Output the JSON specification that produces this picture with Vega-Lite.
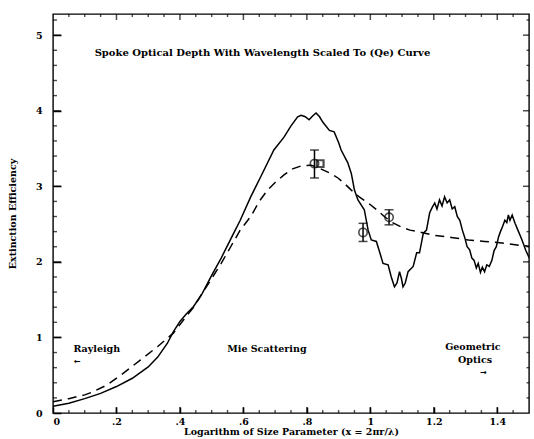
{
  "$schema": "https://vega.github.io/schema/vega-lite/v6.json",
  "width": 476,
  "height": 399,
  "autosize": {"type": "none"},
  "padding": {"left": 53, "top": 14, "right": 5, "bottom": 26},
  "background": "white",
  "config": {
    "view": {"stroke": "black", "strokeWidth": 1.4},
    "font": "DejaVu Serif",
    "axis": {
      "grid": false,
      "domain": false,
      "ticks": true,
      "zindex": 2,
      "tickColor": "#000000",
      "tickWidth": 1.5,
      "labelFont": "DejaVu Serif",
      "labelFontWeight": "bold",
      "labelFontSize": 9.5,
      "labelColor": "black",
      "titleFont": "DejaVu Serif",
      "titleFontWeight": "bold",
      "titleFontSize": 9.5,
      "titleColor": "black"
    }
  },
  "datasets": {
    "solid": [
      {"x": 0.0, "y": 0.09}, {"x": 0.05, "y": 0.13}, {"x": 0.1, "y": 0.19}, {"x": 0.15, "y": 0.26},
      {"x": 0.2, "y": 0.35}, {"x": 0.25, "y": 0.46}, {"x": 0.3, "y": 0.61}, {"x": 0.33, "y": 0.74},
      {"x": 0.36, "y": 0.92}, {"x": 0.38, "y": 1.08}, {"x": 0.4, "y": 1.21}, {"x": 0.42, "y": 1.31},
      {"x": 0.443, "y": 1.41}, {"x": 0.47, "y": 1.58}, {"x": 0.5, "y": 1.82}, {"x": 0.53, "y": 2.05},
      {"x": 0.56, "y": 2.3}, {"x": 0.59, "y": 2.55}, {"x": 0.623, "y": 2.86}, {"x": 0.655, "y": 3.13},
      {"x": 0.696, "y": 3.48}, {"x": 0.728, "y": 3.65}, {"x": 0.75, "y": 3.8}, {"x": 0.771, "y": 3.92},
      {"x": 0.782, "y": 3.94}, {"x": 0.795, "y": 3.92}, {"x": 0.807, "y": 3.88}, {"x": 0.818, "y": 3.93},
      {"x": 0.829, "y": 3.97}, {"x": 0.84, "y": 3.92}, {"x": 0.85, "y": 3.85}, {"x": 0.871, "y": 3.74},
      {"x": 0.886, "y": 3.72}, {"x": 0.9, "y": 3.58}, {"x": 0.908, "y": 3.48}, {"x": 0.929, "y": 3.31},
      {"x": 0.94, "y": 3.17}, {"x": 0.95, "y": 2.95}, {"x": 0.961, "y": 2.82}, {"x": 0.981, "y": 2.69},
      {"x": 0.993, "y": 2.42}, {"x": 1.003, "y": 2.29}, {"x": 1.019, "y": 2.27}, {"x": 1.03, "y": 2.12},
      {"x": 1.04, "y": 1.98}, {"x": 1.056, "y": 1.96}, {"x": 1.066, "y": 1.8}, {"x": 1.076, "y": 1.67},
      {"x": 1.084, "y": 1.72}, {"x": 1.092, "y": 1.87}, {"x": 1.098, "y": 1.78}, {"x": 1.103, "y": 1.67},
      {"x": 1.11, "y": 1.72}, {"x": 1.119, "y": 1.87}, {"x": 1.135, "y": 1.94}, {"x": 1.146, "y": 2.12},
      {"x": 1.155, "y": 2.12}, {"x": 1.167, "y": 2.38}, {"x": 1.177, "y": 2.42}, {"x": 1.187, "y": 2.65},
      {"x": 1.195, "y": 2.72}, {"x": 1.203, "y": 2.78}, {"x": 1.21, "y": 2.7}, {"x": 1.218, "y": 2.82},
      {"x": 1.226, "y": 2.74}, {"x": 1.234, "y": 2.86}, {"x": 1.242, "y": 2.78}, {"x": 1.25, "y": 2.82},
      {"x": 1.258, "y": 2.7}, {"x": 1.266, "y": 2.73}, {"x": 1.274, "y": 2.6}, {"x": 1.282, "y": 2.55},
      {"x": 1.29, "y": 2.42}, {"x": 1.297, "y": 2.33}, {"x": 1.305, "y": 2.2}, {"x": 1.313, "y": 2.16},
      {"x": 1.32, "y": 2.05}, {"x": 1.327, "y": 2.02}, {"x": 1.334, "y": 1.92}, {"x": 1.34, "y": 1.98},
      {"x": 1.347, "y": 1.86}, {"x": 1.353, "y": 1.93}, {"x": 1.36, "y": 1.87}, {"x": 1.367, "y": 1.96},
      {"x": 1.375, "y": 1.94}, {"x": 1.383, "y": 2.02}, {"x": 1.39, "y": 2.15}, {"x": 1.397, "y": 2.2},
      {"x": 1.404, "y": 2.33}, {"x": 1.41, "y": 2.4}, {"x": 1.417, "y": 2.47}, {"x": 1.424, "y": 2.55},
      {"x": 1.43, "y": 2.52}, {"x": 1.435, "y": 2.62}, {"x": 1.44, "y": 2.55}, {"x": 1.447, "y": 2.62},
      {"x": 1.456, "y": 2.51}, {"x": 1.465, "y": 2.42}, {"x": 1.478, "y": 2.29}, {"x": 1.49, "y": 2.15},
      {"x": 1.499, "y": 2.07}, {"x": 1.51, "y": 1.98}
    ],
    "dashed": [
      {"x": 0.0, "y": 0.15}, {"x": 0.05, "y": 0.19}, {"x": 0.1, "y": 0.24}, {"x": 0.12, "y": 0.27},
      {"x": 0.17, "y": 0.37}, {"x": 0.22, "y": 0.52}, {"x": 0.275, "y": 0.7}, {"x": 0.33, "y": 0.88},
      {"x": 0.38, "y": 1.06}, {"x": 0.42, "y": 1.28}, {"x": 0.443, "y": 1.4}, {"x": 0.47, "y": 1.58},
      {"x": 0.5, "y": 1.78}, {"x": 0.53, "y": 1.98}, {"x": 0.56, "y": 2.2}, {"x": 0.59, "y": 2.42},
      {"x": 0.623, "y": 2.6}, {"x": 0.65, "y": 2.8}, {"x": 0.676, "y": 2.95}, {"x": 0.7, "y": 3.05},
      {"x": 0.728, "y": 3.15}, {"x": 0.755, "y": 3.23}, {"x": 0.782, "y": 3.27}, {"x": 0.813, "y": 3.28},
      {"x": 0.835, "y": 3.25}, {"x": 0.854, "y": 3.21}, {"x": 0.875, "y": 3.17}, {"x": 0.898, "y": 3.11},
      {"x": 0.92, "y": 3.03}, {"x": 0.94, "y": 2.95}, {"x": 0.965, "y": 2.86}, {"x": 0.993, "y": 2.78},
      {"x": 1.02, "y": 2.69}, {"x": 1.044, "y": 2.6}, {"x": 1.07, "y": 2.52}, {"x": 1.098, "y": 2.46},
      {"x": 1.125, "y": 2.42}, {"x": 1.151, "y": 2.4}, {"x": 1.203, "y": 2.35}, {"x": 1.26, "y": 2.32},
      {"x": 1.309, "y": 2.29}, {"x": 1.36, "y": 2.27}, {"x": 1.415, "y": 2.25}, {"x": 1.47, "y": 2.22},
      {"x": 1.51, "y": 2.2}
    ],
    "pts": [
      {"x": 0.824, "y": 3.3, "lo": 3.11, "hi": 3.48},
      {"x": 0.977, "y": 2.39, "lo": 2.27, "hi": 2.51},
      {"x": 1.059, "y": 2.59, "lo": 2.49, "hi": 2.69}
    ],
    "sq": [{"x": 0.842, "y": 3.3}],
    "xmaj": [{"v": 0.2}, {"v": 0.4}, {"v": 0.6}, {"v": 0.8}, {"v": 1.0}, {"v": 1.2}, {"v": 1.4}],
    "xmin": [{"v": 0.05}, {"v": 0.1}, {"v": 0.15}, {"v": 0.25}, {"v": 0.3}, {"v": 0.35}, {"v": 0.45}, {"v": 0.5}, {"v": 0.55}, {"v": 0.65}, {"v": 0.7}, {"v": 0.75}, {"v": 0.85}, {"v": 0.9}, {"v": 0.95}, {"v": 1.05}, {"v": 1.1}, {"v": 1.15}, {"v": 1.25}, {"v": 1.3}, {"v": 1.35}, {"v": 1.45}],
    "ymaj": [{"v": 1}, {"v": 2}, {"v": 3}, {"v": 4}, {"v": 5}],
    "ymin": [{"v": 0.2}, {"v": 0.4}, {"v": 0.6}, {"v": 0.8}, {"v": 1.2}, {"v": 1.4}, {"v": 1.6}, {"v": 1.8}, {"v": 2.2}, {"v": 2.4}, {"v": 2.6}, {"v": 2.8}, {"v": 3.2}, {"v": 3.4}, {"v": 3.6}, {"v": 3.8}, {"v": 4.2}, {"v": 4.4}, {"v": 4.6}, {"v": 4.8}, {"v": 5.2}],
    "notes": [
      {"x": 0.138, "y": 0.85, "t": "Rayleigh"},
      {"x": 0.674, "y": 0.85, "t": "Mie Scattering"},
      {"x": 1.323, "y": 0.87, "t": "Geometric"},
      {"x": 1.33, "y": 0.7, "t": "Optics"}
    ],
    "arrows": [
      {"x": 0.077, "y": 0.68, "t": "←"},
      {"x": 1.357, "y": 0.53, "t": "→"}
    ],
    "title": [{"x": 0.66, "y": 4.76, "t": "Spoke Optical Depth With Wavelength Scaled To (Qe) Curve"}]
  },
  "resolve": {"axis": {"x": "independent", "y": "independent"}},
  "layer": [
    {
      "data": {"name": "solid"},
      "mark": {"type": "line", "color": "black", "strokeWidth": 1.5, "clip": true},
      "encoding": {
        "x": {"field": "x", "type": "quantitative",
          "scale": {"domain": [0, 1.5], "nice": false, "zero": false},
          "axis": {"orient": "bottom", "values": [0, 0.2, 0.4, 0.6, 0.8, 1, 1.2, 1.4], "offset": -6, "tickSize": 6,
            "labelPadding": 3,
            "labelExpr": "datum.value == 0 ? '0' : (datum.value < 1 ? '.' + round(datum.value * 10) : format(datum.value, '.1~f'))",
            "title": "Logarithm of Size Parameter (x = 2πr/λ)", "titlePadding": 1}},
        "y": {"field": "y", "type": "quantitative",
          "scale": {"domain": [0, 5.28], "nice": false, "zero": false},
          "axis": {"orient": "left", "values": [0, 1, 2, 3, 4, 5], "offset": -8, "tickSize": 8, "labelPadding": 11,
            "title": "Extinction Efficiency", "titlePadding": 18}}
      }
    },
    {
      "data": {"name": "dashed"},
      "mark": {"type": "line", "color": "black", "strokeWidth": 1.5, "strokeDash": [9, 6], "clip": true},
      "encoding": {
        "x": {"field": "x", "type": "quantitative", "scale": {"domain": [0, 1.5], "nice": false, "zero": false}, "axis": null},
        "y": {"field": "y", "type": "quantitative", "scale": {"domain": [0, 5.28], "nice": false, "zero": false}, "axis": null}
      }
    },
    {
      "data": {"name": "pts"},
      "mark": {"type": "rule", "color": "black", "strokeWidth": 1.5},
      "encoding": {
        "x": {"field": "x", "type": "quantitative", "scale": {"domain": [0, 1.5], "nice": false, "zero": false}, "axis": null},
        "y": {"field": "lo", "type": "quantitative", "scale": {"domain": [0, 5.28], "nice": false, "zero": false}, "axis": null},
        "y2": {"field": "hi"}
      }
    },
    {
      "data": {"name": "pts"},
      "mark": {"type": "point", "shape": "circle", "color": "black", "filled": false, "strokeWidth": 1.6, "size": 70},
      "encoding": {
        "x": {"field": "x", "type": "quantitative", "scale": {"domain": [0, 1.5], "nice": false, "zero": false}, "axis": null},
        "y": {"field": "y", "type": "quantitative", "scale": {"domain": [0, 5.28], "nice": false, "zero": false}, "axis": null}
      }
    },
    {
      "data": {"name": "pts"},
      "mark": {"type": "point", "shape": "M-1,0L1,0", "color": "black", "filled": false, "strokeWidth": 1.5, "size": 81},
      "encoding": {
        "x": {"field": "x", "type": "quantitative", "scale": {"domain": [0, 1.5], "nice": false, "zero": false}, "axis": null},
        "y": {"field": "lo", "type": "quantitative", "scale": {"domain": [0, 5.28], "nice": false, "zero": false}, "axis": null}
      }
    },
    {
      "data": {"name": "pts"},
      "mark": {"type": "point", "shape": "M-1,0L1,0", "color": "black", "filled": false, "strokeWidth": 1.5, "size": 81},
      "encoding": {
        "x": {"field": "x", "type": "quantitative", "scale": {"domain": [0, 1.5], "nice": false, "zero": false}, "axis": null},
        "y": {"field": "hi", "type": "quantitative", "scale": {"domain": [0, 5.28], "nice": false, "zero": false}, "axis": null}
      }
    },
    {
      "data": {"name": "sq"},
      "mark": {"type": "point", "shape": "square", "color": "black", "filled": false, "strokeWidth": 2.2, "size": 45},
      "encoding": {
        "x": {"field": "x", "type": "quantitative", "scale": {"domain": [0, 1.5], "nice": false, "zero": false}, "axis": null},
        "y": {"field": "y", "type": "quantitative", "scale": {"domain": [0, 5.28], "nice": false, "zero": false}, "axis": null}
      }
    },
    {
      "data": {"name": "xmaj"},
      "mark": {"type": "point", "shape": "M0,-1L0,1", "color": "black", "filled": false, "strokeWidth": 1.5, "size": 144, "clip": true},
      "encoding": {
        "x": {"field": "v", "type": "quantitative", "scale": {"domain": [0, 1.5], "nice": false, "zero": false}, "axis": null},
        "y": {"datum": 0, "type": "quantitative", "scale": {"domain": [0, 5.28], "nice": false, "zero": false}, "axis": null}
      }
    },
    {
      "data": {"name": "xmaj"},
      "mark": {"type": "point", "shape": "M0,-1L0,1", "color": "black", "filled": false, "strokeWidth": 1.5, "size": 144, "clip": true},
      "encoding": {
        "x": {"field": "v", "type": "quantitative", "scale": {"domain": [0, 1.5], "nice": false, "zero": false}, "axis": null},
        "y": {"datum": 5.28, "type": "quantitative", "scale": {"domain": [0, 5.28], "nice": false, "zero": false}, "axis": null}
      }
    },
    {
      "data": {"name": "xmin"},
      "mark": {"type": "point", "shape": "M0,-1L0,1", "color": "black", "filled": false, "strokeWidth": 1.4, "size": 36, "clip": true},
      "encoding": {
        "x": {"field": "v", "type": "quantitative", "scale": {"domain": [0, 1.5], "nice": false, "zero": false}, "axis": null},
        "y": {"datum": 0, "type": "quantitative", "scale": {"domain": [0, 5.28], "nice": false, "zero": false}, "axis": null}
      }
    },
    {
      "data": {"name": "xmin"},
      "mark": {"type": "point", "shape": "M0,-1L0,1", "color": "black", "filled": false, "strokeWidth": 1.4, "size": 36, "clip": true},
      "encoding": {
        "x": {"field": "v", "type": "quantitative", "scale": {"domain": [0, 1.5], "nice": false, "zero": false}, "axis": null},
        "y": {"datum": 5.28, "type": "quantitative", "scale": {"domain": [0, 5.28], "nice": false, "zero": false}, "axis": null}
      }
    },
    {
      "data": {"name": "ymaj"},
      "mark": {"type": "point", "shape": "M-1,0L1,0", "color": "black", "filled": false, "strokeWidth": 1.5, "size": 256, "clip": true},
      "encoding": {
        "x": {"datum": 0, "type": "quantitative", "scale": {"domain": [0, 1.5], "nice": false, "zero": false}, "axis": null},
        "y": {"field": "v", "type": "quantitative", "scale": {"domain": [0, 5.28], "nice": false, "zero": false}, "axis": null}
      }
    },
    {
      "data": {"name": "ymaj"},
      "mark": {"type": "point", "shape": "M-1,0L1,0", "color": "black", "filled": false, "strokeWidth": 1.5, "size": 144, "clip": true},
      "encoding": {
        "x": {"datum": 1.5, "type": "quantitative", "scale": {"domain": [0, 1.5], "nice": false, "zero": false}, "axis": null},
        "y": {"field": "v", "type": "quantitative", "scale": {"domain": [0, 5.28], "nice": false, "zero": false}, "axis": null}
      }
    },
    {
      "data": {"name": "ymin"},
      "mark": {"type": "point", "shape": "M-1,0L1,0", "color": "black", "filled": false, "strokeWidth": 1.4, "size": 64, "clip": true},
      "encoding": {
        "x": {"datum": 0, "type": "quantitative", "scale": {"domain": [0, 1.5], "nice": false, "zero": false}, "axis": null},
        "y": {"field": "v", "type": "quantitative", "scale": {"domain": [0, 5.28], "nice": false, "zero": false}, "axis": null}
      }
    },
    {
      "data": {"name": "ymin"},
      "mark": {"type": "point", "shape": "M-1,0L1,0", "color": "black", "filled": false, "strokeWidth": 1.4, "size": 25, "clip": true},
      "encoding": {
        "x": {"datum": 1.5, "type": "quantitative", "scale": {"domain": [0, 1.5], "nice": false, "zero": false}, "axis": null},
        "y": {"field": "v", "type": "quantitative", "scale": {"domain": [0, 5.28], "nice": false, "zero": false}, "axis": null}
      }
    },
    {
      "data": {"name": "notes"},
      "mark": {"type": "text", "font": "DejaVu Serif", "fontWeight": "bold", "fontSize": 9.5, "color": "black", "baseline": "middle", "align": "center"},
      "encoding": {
        "x": {"field": "x", "type": "quantitative", "scale": {"domain": [0, 1.5], "nice": false, "zero": false}, "axis": null},
        "y": {"field": "y", "type": "quantitative", "scale": {"domain": [0, 5.28], "nice": false, "zero": false}, "axis": null},
        "text": {"field": "t"}
      }
    },
    {
      "data": {"name": "arrows"},
      "mark": {"type": "text", "font": "DejaVu Sans", "fontSize": 8, "fontWeight": "bold", "color": "black", "baseline": "middle", "align": "center"},
      "encoding": {
        "x": {"field": "x", "type": "quantitative", "scale": {"domain": [0, 1.5], "nice": false, "zero": false}, "axis": null},
        "y": {"field": "y", "type": "quantitative", "scale": {"domain": [0, 5.28], "nice": false, "zero": false}, "axis": null},
        "text": {"field": "t"}
      }
    },
    {
      "data": {"name": "title"},
      "mark": {"type": "text", "font": "DejaVu Serif", "fontWeight": "bold", "fontSize": 10, "color": "black", "baseline": "middle", "align": "center"},
      "encoding": {
        "x": {"field": "x", "type": "quantitative", "scale": {"domain": [0, 1.5], "nice": false, "zero": false}, "axis": null},
        "y": {"field": "y", "type": "quantitative", "scale": {"domain": [0, 5.28], "nice": false, "zero": false}, "axis": null},
        "text": {"field": "t"}
      }
    }
  ]
}
